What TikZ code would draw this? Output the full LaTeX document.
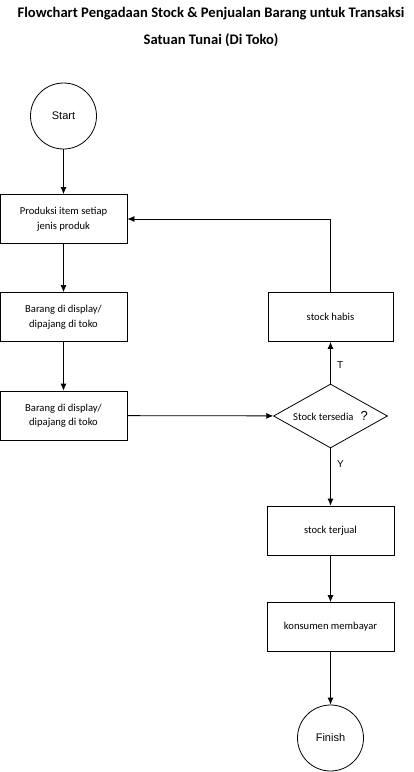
\documentclass[tikz,border=0pt]{standalone}
\usepackage{fontspec}
\setmainfont{Carlito}
\newfontfamily\arialfont{Liberation Sans}
\usetikzlibrary{arrows.meta,shapes.geometric}

\begin{document}
\begin{tikzpicture}[x=1pt,y=-1pt,
box/.style = {draw, line width=0.8pt, minimum width=127pt, minimum height=49pt, align=center, font=\fontsize{10.6}{14.5}\selectfont, inner sep=0pt},
term/.style = {draw, circle, line width=0.8pt, minimum size=66pt, inner sep=0pt, font=\arialfont\fontsize{11}{13}\selectfont},
decide/.style = {draw, diamond, line width=0.8pt, minimum width=114pt, minimum height=64pt, aspect=1.8, inner sep=0pt, font=\fontsize{10.6}{12}\selectfont},
flow/.style = {-{Latex[length=7pt,width=6pt]}, line width=0.8pt},
lbl/.style = {font=\arialfont\fontsize{10}{12}\selectfont}
]
\def\L{63.5} % left column
\def\R{330.5} % right column
\useasboundingbox (0,0) rectangle (414,772);

% Title
\node[font=\bfseries\fontsize{14.6}{27}\selectfont, align=center] (title) at (211,27) {Flowchart Pengadaan Stock \& Penjualan Barang untuk Transaksi\\Satuan Tunai (Di Toko)};

% Left column
\node[term] (start) at (\L,116) {Start};
\node[box] (produksi) at (\L,219) {Produksi item setiap\\jenis produk};
\node[box] (display) at (\L,317) {Barang di display/\\dipajang di toko};
\node[box] (pajang) at (\L,415.5) {Barang di display/\\dipajang di toko};

% Right column
\node[box, minimum width=125pt] (habis) at (\R,317) {stock habis};
\node[decide] (cek) at (\R,416) {Stock tersedia\hspace{7pt}{\arialfont\fontsize{13}{13}\selectfont ?}};
\node[box, minimum width=127pt] (terjual) at (\R,530.5) {stock terjual};
\node[box, minimum width=127pt] (bayar) at (\R,627) {konsumen membayar};
\node[term] (finish) at (\R,738) {Finish};

% Connectors
\draw[flow] (start) -- (produksi);
\draw[flow] (produksi) -- (display);
\draw[flow] (display) -- (pajang);
\draw[flow] (pajang) -- (cek);
\draw[flow] (cek) -- node[lbl, right, pos=0.45, xshift=3pt] {T} (habis);
\draw[flow] (habis.north) |- (produksi.east);
\draw[flow] (cek) -- node[lbl, right, pos=0.28, xshift=3pt] {Y} (terjual);
\draw[flow] (terjual) -- (bayar);
\draw[flow] (bayar) -- (finish);
\end{tikzpicture}
\end{document}
